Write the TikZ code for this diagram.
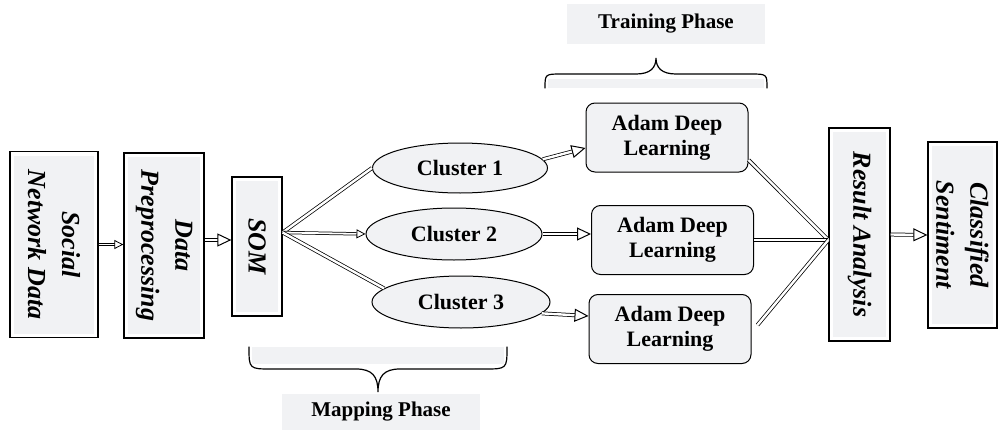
\documentclass[tikz,border=0pt]{standalone}
\usepackage{fontspec}
\setmainfont{Liberation Serif}
\usetikzlibrary{shapes.geometric,arrows.meta}
\definecolor{boxgray}{HTML}{F1F2F4}
\tikzset{
  vbox/.style={draw, line width=1.3pt, fill=boxgray, rotate=-90, align=center,
    inner sep=0pt, font=\bfseries\itshape\fontsize{26}{34}\selectfont,
    path picture={\draw[white, line width=8pt]
      (path picture bounding box.south west) rectangle (path picture bounding box.north east);}},
  clusternode/.style={draw, ellipse, line width=1pt, fill=boxgray, inner sep=0pt,
    font=\bfseries\fontsize{22}{25}\selectfont},
  adambox/.style={draw, rounded corners=9pt, line width=1pt, fill=boxgray, align=center,
    inner sep=0pt, minimum width=162pt, minimum height=69pt,
    font=\bfseries\fontsize{22}{25}\selectfont},
  phaselabel/.style={fill=boxgray, inner sep=0pt, minimum width=198pt, minimum height=40pt,
    font=\bfseries\fontsize{21}{24}\selectfont},
  dline/.style={double, double distance=2.4pt, line width=0.75pt},
  darrow/.style={dline, -{Triangle[open, length=14pt, width=13pt, line width=1pt, fill=white]}},
  smallarrow/.style={dline, double distance=1.8pt, -{Triangle[open, length=9pt, width=9pt, line width=0.8pt, fill=white]}},
  bracepath/.style={line width=1.2pt, line cap=round}
}
\begin{document}
\begin{tikzpicture}[x=1pt, y=-1pt]
\useasboundingbox (0,0) rectangle (1002,431);

% processing blocks (text turned a quarter clockwise: north anchor faces right)
\node[vbox, minimum width=186pt, minimum height=88pt] (sn) at (54,244.5) {Social\\Network Data};
\node[vbox, minimum width=185pt, minimum height=80pt] (dp) at (164,245.5) {Data\\Preprocessing};
\node[vbox, minimum width=139pt, minimum height=50pt] (som) at (257,246.5) {SOM};
\node[vbox, minimum width=213pt, minimum height=61pt] (ra) at (859.5,234.5) {Result Analysis};
\node[vbox, minimum width=186pt, minimum height=69pt] (cs) at (962.5,235) {Classified\\Sentiment};

% clusters
\node[clusternode, minimum width=175pt, minimum height=50pt] (c1) at (460,168) {Cluster 1};
\node[clusternode, minimum width=176pt, minimum height=52pt] (c2) at (454,234) {Cluster 2};
\node[clusternode, minimum width=178pt, minimum height=52pt] (c3) at (461,302) {Cluster 3};

% deep learning blocks
\node[adambox] (a1) at (667,137.5) {Adam Deep\\Learning};
\node[adambox] (a2) at (672.5,240) {Adam Deep\\Learning};
\node[adambox] (a3) at (670,329) {Adam Deep\\Learning};

% phase labels
\node[phaselabel] (tp) at (666,24) {Training Phase};
\node[phaselabel, minimum height=36pt] (mp) at (381,412) {Mapping Phase};

% braces
\fill[boxgray] (548,88) -- (548,79) -- (764,79) -- (764,88) -- cycle;
\draw[bracepath] (545,88) .. controls (545,74) and (545,74) .. (562,74) -- (636,74)
  .. controls (650,74) and (656,68) .. (656,58)
  .. controls (656,68) and (662,74) .. (676,74) -- (750,74)
  .. controls (767,74) and (767,74) .. (767,88);
\fill[boxgray] (252,347) -- (252,364) -- (504,364) -- (504,347) -- cycle;
\draw[bracepath] (249,347) .. controls (249,369) and (249,369) .. (272,369) -- (356,369)
  .. controls (372,369) and (378,376) .. (378,392)
  .. controls (378,376) and (384,369) .. (400,369) -- (484,369)
  .. controls (507,369) and (507,369) .. (507,347);

% input chain
\draw[smallarrow] (sn.north) -- (sn.north -| dp.south);
\draw[darrow] ([yshift=5.5pt]dp.north) -- ([yshift=5.5pt]dp.north -| som.south);

% fan out from SOM to the clusters
\coordinate (fan) at ([yshift=14pt]som.north);
\draw[dline] (fan) -- (c1.west);
\draw[smallarrow] (fan) -- (c2.west);
\draw[dline] (fan) -- (c3.170);

% clusters to deep learning
\draw[darrow] (c1.6) -- ([yshift=-10.5pt]a1.west);
\draw[darrow] (c2.east) -- ([yshift=6pt]a2.west);
\draw[darrow] (c3.-8) -- ([yshift=13pt]a3.west);

% deep learning outputs merge into result analysis
\coordinate (merge) at ([yshift=-5.5pt]ra.south);
\coordinate (a3out) at ([xshift=6pt,yshift=4pt]a3.east);
\draw[dline] ([yshift=-22.5pt]a1.east) -- (merge);
\draw[dline] (a2.east) -- (merge);
\draw[dline] (a3out) -- (merge);

% final output
\draw[darrow] (ra.north) -- (cs.south);
\end{tikzpicture}
\end{document}
